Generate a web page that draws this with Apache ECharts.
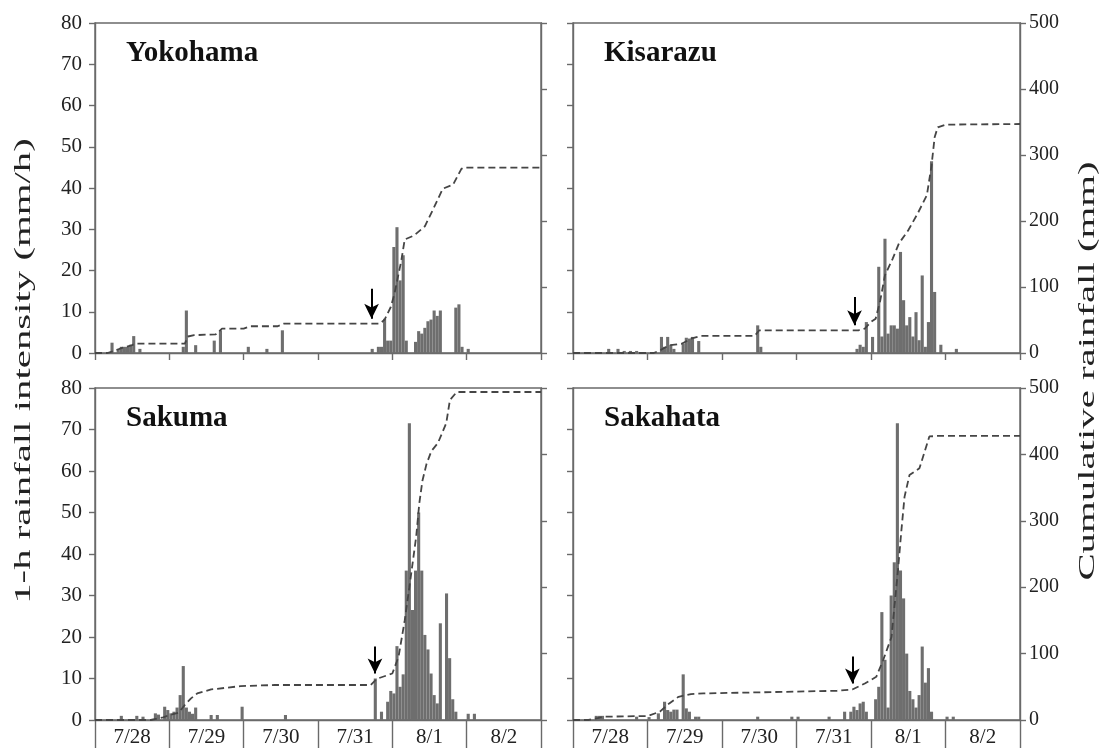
<!DOCTYPE html>
<html><head><meta charset="utf-8">
<script src="https://cdn.jsdelivr.net/npm/echarts@6/dist/echarts.min.js"></script>
<style>html,body{margin:0;padding:0;background:#fff}#c{width:1112px;height:748px}</style>
</head><body><div id="c"></div>
<script>
// ---- data (hour index counted from 7/28 00:00) ----
const dayLabels = ['7/28','7/29','7/30','7/31','8/1','8/2'];
const stationNames = ['Yokohama','Kisarazu','Sakuma','Sakahata'];

// 1-h rainfall intensity [hour, mm/h]
const yokohamaRain = [[5,2.5],[7,1],[8,1.5],[9,1.5],[10,1.5],[11,2],[12,4.1],[14,1],
 [28,1.5],[29,10.3],[32,1.9],[38,3],[40,5.5],[49,1.5],[55,1],[60,5.5],
 [89,1],[91,1.5],[92,1.5],[93,8.3],[94,3],[95,3],[96,25.7],[97,30.5],[98,17.6],[99,23.7],[100,3],
 [103,2.7],[104,5.3],[105,4.7],[106,6.1],[107,7.7],[108,8.1],[109,10.3],[110,9],[111,10.3],
 [116,11],[117,11.8],[118,1.5],[120,1]];
const kisarazuRain = [[11,1],[14,1],[16,0.5],[18,0.5],[20,0.5],[28,3.9],[29,1.5],[30,3.9],[31,2],[32,1],
 [35,2.3],[36,3.7],[37,3.5],[38,3.9],[40,2.9],[59,6.7],[60,1.5],
 [91,1],[92,2],[93,1.5],[94,7.5],[96,3.9],[98,20.9],[99,4],[100,27.7],[101,4.7],[102,6.7],[103,6.7],
 [104,5.9],[105,24.5],[106,12.8],[107,6.7],[108,8.7],[109,4],[110,9.9],[111,3.1],[112,18.8],[113,1.5],
 [114,7.5],[115,46.5],[116,14.8],[118,2],[123,1]];
const sakumaRain = [[8,1],[13,1],[15,0.8],[19,1.6],[20,1.3],[22,3.2],[23,2.4],[24,1.6],[25,2],[26,3],
 [27,6],[28,13],[29,3],[30,2],[31,1.5],[32,3],[37,1.2],[39,1.2],[47,3.2],[61,1.2],
 [90,10],[92,2],[94,4.4],[95,7],[96,6.4],[97,17.8],[98,8],[99,11],[100,36],[101,71.5],[102,26.5],
 [103,36],[104,50],[105,36],[106,20.5],[107,17],[108,11.2],[109,6],[110,4],[111,23.3],[113,30.5],
 [114,14.9],[115,5],[116,2],[120,1.5],[122,1.5]];
const sakahataRain = [[7,1],[8,1],[9,1],[20,0.8],[24,0.7],[27,1.6],[29,4.4],[30,2.4],[31,2],[32,2.5],
 [33,2.5],[35,11],[36,2.8],[37,2],[39,0.8],[40,0.8],[59,0.8],[70,0.8],[72,0.8],[82,0.8],
 [87,2],[89,2],[90,3.2],[91,2.4],[92,4],[93,4.4],[94,2],
 [97,5],[98,8],[99,26],[100,14.5],[101,3],[102,30],[103,38],[104,71.5],[105,36],[106,29.3],[107,16],
 [108,7],[109,5],[110,3],[111,6],[112,17.7],[113,9],[114,12.5],[115,2],[120,0.8],[122,0.8]];

// cumulative rainfall [hour, mm]
const yokohamaCum = [[0,0],[4,0],[6,3],[9,8],[12,12],[13,14.2],[29,14.2],[30,25],[32,27],[39,28.3],
 [41,37],[48,37],[50,40.5],[59,40.5],[61,44.5],[92,44.5],[93.5,50.5],[95.5,69.7],[96.7,90],[97.8,115],
 [98.9,140],[100,172],[103,178],[106.5,192],[109,216],[112.3,249],[115.6,255],[118.3,279],[119,281],[144,281]];
const kisarazuCum = [[0,0],[26,0],[28,4],[31,11.6],[35,14],[38,21.7],[41,25.8],[58.5,25.8],[60,34.4],
 [92,34.4],[94,37],[96,47],[97.5,52],[99,80],[100.5,118],[103,143],[105,166],[108,186],[111,211],
 [114,239],[115.5,284],[116.5,327],[117.5,342],[120,346],[144,347]];
const sakumaCum = [[0,0],[18,0],[20,2],[22,4],[24,7.5],[27,11],[29,22.6],[31,32.6],[33,40],[37.5,46],
 [47,51],[58,52.7],[89,52.7],[91,62],[96,70],[98,95],[100,150],[101.5,200],[103.7,276],[104.7,326],
 [105.7,360],[107,385],[108.6,405],[110.7,417],[113.4,447],[114.6,482],[116.8,494],[144,494]];
const sakahataCum = [[0,0],[5,0],[8,3],[10,5],[24,6],[28,12.5],[31,25],[34,35],[38,39],[42,40],
 [85,44],[90,46],[94,55],[97.7,65],[99.9,90],[102.6,125],[104.7,226],[105.8,286],[106.8,336],
 [108.4,369],[111.6,379],[114.8,427],[118,428],[144,428]];

// arrows [hour, top (mm/h), tip (mm/h)]
const arrows = [[89.3,15.6,8.3],[90.7,13.6,6.7],[90.4,17.7,11.2],[90,15.3,8.8]];

const yLeftTicks = {min:0, max:80, interval:10};
const yRightTicks = {min:0, max:500, interval:100};
const hours = {min:0, max:144, interval:24};

// ---- layout / style ----
const rains = [yokohamaRain, kisarazuRain, sakumaRain, sakahataRain];
const cums = [yokohamaCum, kisarazuCum, sakumaCum, sakahataCum];
const grids = [
  {left:95, width:446, top:23, height:330},
  {left:573, width:447, top:23, height:330},
  {left:95, width:446, top:388, height:332},
  {left:573, width:447, top:388, height:332}
];
const axisColor = '#6a6a6a';
const serif = '"Liberation Serif", "Times New Roman", serif';
const axLine = {color: axisColor, width: 1.4};

const option = {
  animation: false,
  backgroundColor: '#fff',
  grid: grids.map(g => Object.assign({show:true, borderColor:axisColor, borderWidth:1.4,
      backgroundColor:'transparent', containLabel:false, outerBoundsMode:'none'}, g)),
  xAxis: [], yAxis: [], series: [],
  graphic: []
};

grids.forEach((g, i) => {
  const bottomRow = i >= 2;
  const leftCol = i % 2 === 0;
  option.xAxis.push({
    type:'value', gridIndex:i, min:hours.min, max:hours.max, interval:hours.interval, position:'bottom',
    axisLine:{show:true, onZero:false, lineStyle:axLine},
    axisTick:{show:true, inside:false, length: bottomRow ? 28 : 7, lineStyle:axLine},
    axisLabel:{show:false}, splitLine:{show:false}
  });
  const xMainIndex = option.xAxis.length - 1;
  if (bottomRow) {
    option.xAxis.push({
      type:'value', gridIndex:i, min:hours.min, max:hours.max, interval:12, position:'bottom', offset:0,
      axisLine:{show:false}, axisTick:{show:false}, splitLine:{show:false},
      axisLabel:{show:true, margin:7, fontFamily:serif, fontSize:21, color:'#222', hideOverlap:false,
        formatter: v => (v % 24 === 12 ? dayLabels[(v - 12) / 24] : '')}
    });
  }
  option.yAxis.push({
    type:'value', gridIndex:i, position:'left', min:yLeftTicks.min, max:yLeftTicks.max, interval:yLeftTicks.interval,
    axisLine:{show:true, onZero:false, lineStyle:axLine},
    axisTick:{show:true, inside:false, length:6, lineStyle:axLine},
    splitLine:{show:false},
    axisLabel:{show:leftCol, margin:13, fontFamily:serif, fontSize:21, color:'#222'}
  });
  const yl = option.yAxis.length - 1;
  option.yAxis.push({
    type:'value', gridIndex:i, position:'right', min:yRightTicks.min, max:yRightTicks.max, interval:yRightTicks.interval,
    axisLine:{show:true, onZero:false, lineStyle:axLine},
    axisTick:{show:true, inside:false, length:6, lineStyle:axLine},
    splitLine:{show:false},
    axisLabel:{show:!leftCol, margin:9, fontFamily:serif, fontSize:20, color:'#222'}
  });
  const yr = option.yAxis.length - 1;
  const a = arrows[i];
  option.series.push({
    type:'bar', xAxisIndex:xMainIndex, yAxisIndex:yl,
    data: rains[i].map(d => [d[0] + 0.5, d[1]]),
    barWidth: g.width / 144, barGap:'-100%',
    itemStyle:{color:'#6e6e6e'},
    silent:true,
    markLine:{
      silent:true, symbol:['none','arrow'], symbolSize:[11,15], label:{show:false},
      lineStyle:{color:'#000', width:2, type:'solid'},
      data:[[{coord:[a[0], a[1]]}, {coord:[a[0], a[2]]}]]
    }
  });
  option.series.push({
    type:'line', xAxisIndex:xMainIndex, yAxisIndex:yr,
    data: cums[i], symbol:'none', silent:true, z:3,
    lineStyle:{color:'#454545', width:1.8, type:[7,4]}
  });
  option.graphic.push({
    type:'text', left: g.left + 31, top: g.top + 33 - 17,
    style:{text: stationNames[i], font:'bold 29px ' + serif, fill:'#111'}
  });
});

option.graphic.push({
  type:'text', x:24, y:371, rotation:Math.PI/2, scaleX:1.7,
  style:{text:'1-h rainfall intensity (mm/h)', font:'24px ' + serif, fill:'#222', align:'center', verticalAlign:'middle'}
});
option.graphic.push({
  type:'text', x:1088, y:371, rotation:Math.PI/2, scaleX:1.7,
  style:{text:'Cumulative rainfall (mm)', font:'24px ' + serif, fill:'#222', align:'center', verticalAlign:'middle'}
});

const chart = echarts.init(document.getElementById('c'), null, {renderer:'canvas'});
chart.setOption(option);
</script>
</body></html>
